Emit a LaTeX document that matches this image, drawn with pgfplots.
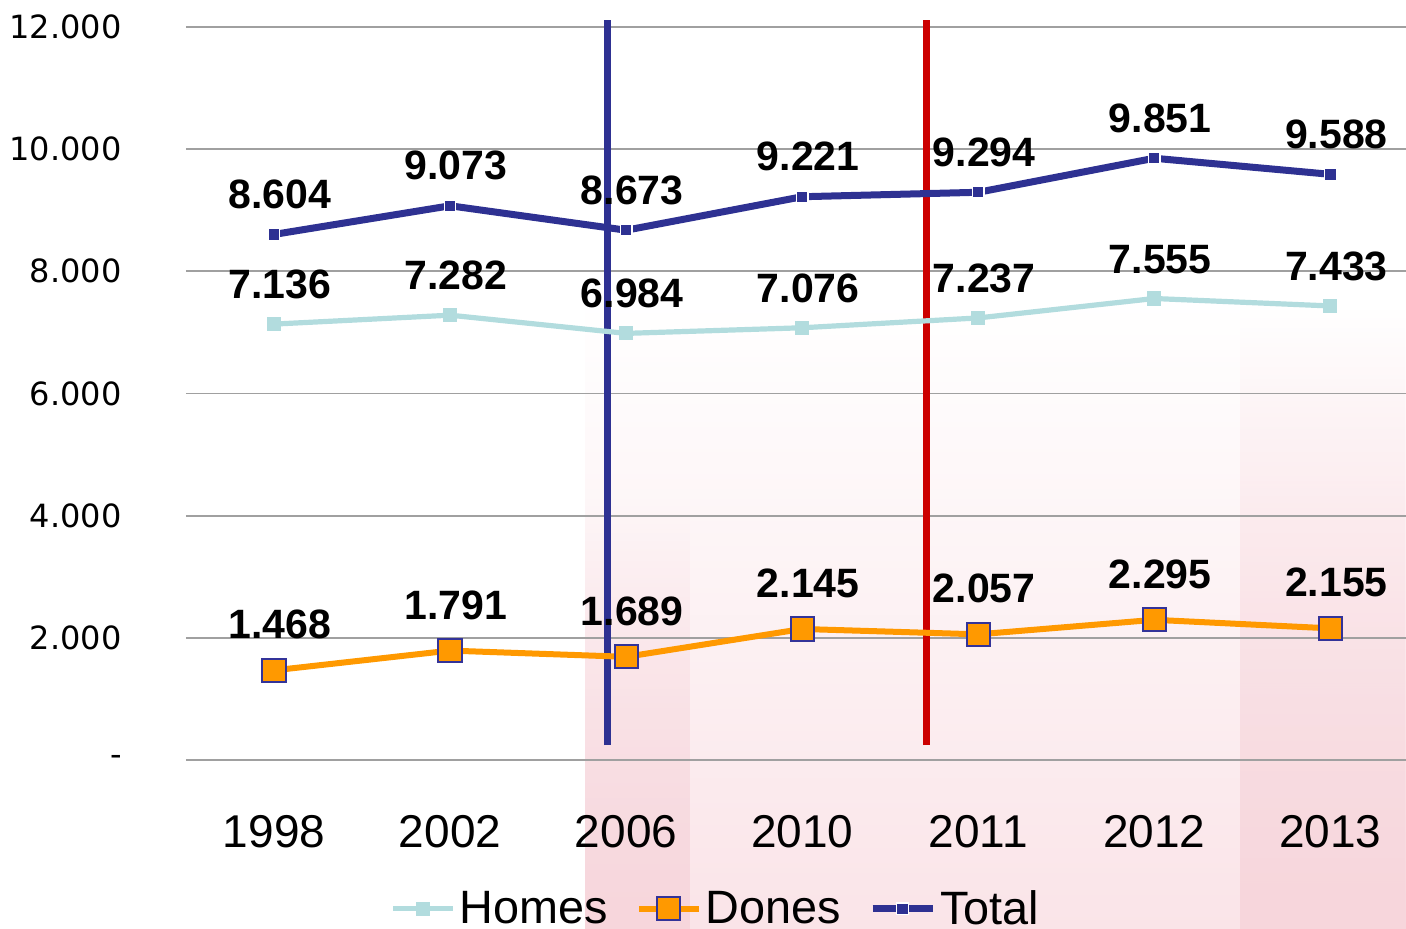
\documentclass[border=0pt]{standalone}
\usepackage{pgfplots}
\pgfplotsset{compat=1.18}
\usetikzlibrary{fadings}
\usepackage{fontspec}
\setmainfont{Liberation Sans}
\newfontfamily\dejavu{DejaVu Sans}
\definecolor{navyc}{RGB}{46,49,146}
\definecolor{homesc}{RGB}{178,220,222}
\definecolor{donesc}{RGB}{255,153,0}
\definecolor{mborder}{RGB}{51,51,153}
\definecolor{redc}{RGB}{204,0,0}
\definecolor{gridc}{RGB}{160,160,160}
\definecolor{pinklight}{RGB}{250,228,232}
\definecolor{pinkmid}{RGB}{247,214,220}
\begin{document}
\begin{tikzpicture}
\path[use as bounding box] (-93pt,-84.5pt) rectangle (610pt,380pt);
% faint background watermark
\fill[pinklight, path fading=north] (199.5pt,-84.5pt) rectangle (610pt,230pt);
\fill[pinkmid, path fading=north] (199.5pt,-84.5pt) rectangle (252pt,130pt);
\fill[pinkmid, path fading=north] (527pt,-84.5pt) rectangle (610pt,225pt);
\begin{axis}[
  at={(0,0)}, anchor=south west,
  scale only axis, width=610pt, height=366.5pt,
  xmin=-0.5, xmax=6.43, ymin=0, ymax=12000,
  clip=false,
  scaled y ticks=false,
  axis line style={draw=none},
  xtick={0,1,2,3,4,5,6},
  xticklabels={1998,2002,2006,2010,2011,2012,2013},
  ytick={0,2000,4000,6000,8000,10000,12000},
  yticklabels={-\hspace{11pt},2.000,4.000,6.000,8.000,10.000,12.000},
  major tick length=0pt,
  ymajorgrids, grid style={gridc, line width=0.9pt},
  xticklabel style={font=\fontsize{23}{23}\selectfont, anchor=north, inner sep=0pt, yshift=-27.5pt},
  yticklabel style={font=\dejavu\fontsize{16}{16}\selectfont, anchor=east, inner sep=0pt, xshift=-32pt},
  legend style={at={(0.435,-0.203)}, anchor=center, draw=none, fill=none,
    font=\fontsize{23.4}{23.4}\selectfont, legend columns=3,
    /tikz/every even column/.append style={column sep=12pt},
    cells={anchor=west, inner sep=1pt}},
  legend image code/.code={\draw[mark repeat=2,mark phase=2,#1] plot coordinates {(0pt,0pt) (15pt,0pt) (30pt,0pt)};},
  nodes near coords, point meta=explicit symbolic,
  every node near coord/.append style={font=\bfseries\fontsize{20.5}{20.5}\selectfont, anchor=south, inner sep=0pt, text=black, xshift=3pt},
]
% reference vertical lines
\addplot[forget plot, navyc, line width=3.5pt, mark=none, nodes near coords=] coordinates {(1.896,245) (1.896,12115)};
\addplot[forget plot, redc, line width=3.5pt, mark=none, nodes near coords=] coordinates {(3.706,245) (3.706,12115)};

\addplot[homesc, line width=2.6pt, mark=square*, mark size=3.3pt,
  mark options={fill=homesc, draw=homesc, line width=0pt},
  every node near coord/.append style={yshift=12.5pt}]
  coordinates {(0,7136)[7.136] (1,7282)[7.282] (2,6984)[6.984] (3,7076)[7.076] (4,7237)[7.237] (5,7555)[7.555] (6,7433)[7.433]};
\addlegendentry{Homes}
\addplot[donesc, line width=3pt, mark=square*, mark size=5.8pt,
  mark options={fill=donesc, draw=mborder, line width=1pt},
  every node near coord/.append style={yshift=15pt}]
  coordinates {(0,1468)[1.468] (1,1791)[1.791] (2,1689)[1.689] (3,2145)[2.145] (4,2057)[2.057] (5,2295)[2.295] (6,2155)[2.155]};
\addlegendentry{Dones}
\addplot[navyc, line width=3.5pt, mark=square*, mark size=2.9pt,
  mark options={fill=navyc, draw=white, line width=0.6pt},
  every node near coord/.append style={yshift=12.5pt}]
  coordinates {(0,8604)[8.604] (1,9073)[9.073] (2,8673)[8.673] (3,9221)[9.221] (4,9294)[9.294] (5,9851)[9.851] (6,9588)[9.588]};
\addlegendentry{Total}
\end{axis}
\end{tikzpicture}
\end{document}
